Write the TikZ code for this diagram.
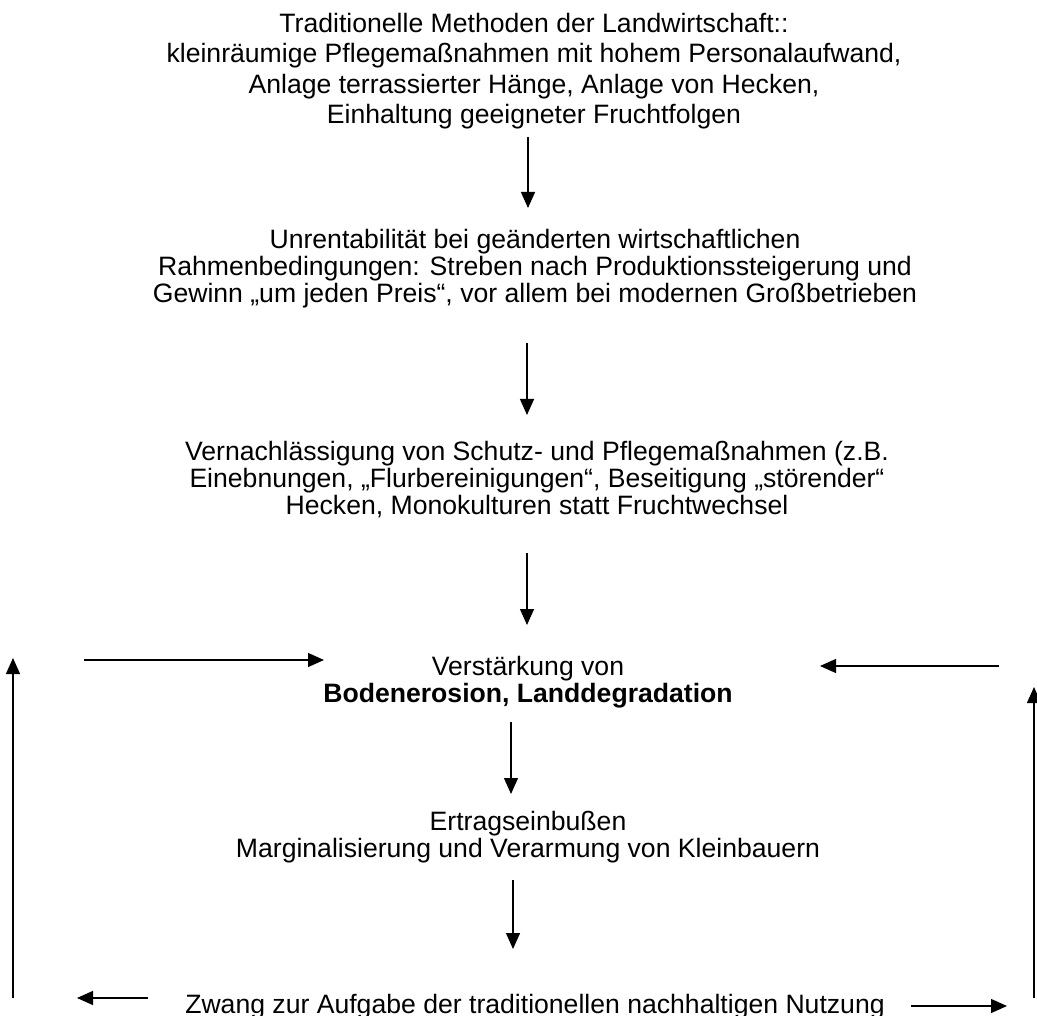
\documentclass[tikz,border=0pt]{standalone}
\usepackage{fontspec}
\setmainfont{Liberation Sans}
\usetikzlibrary{arrows.meta}
\begin{document}
\begin{tikzpicture}[x=1pt,y=-1pt,
  txt/.style={inner sep=0pt,align=center,anchor=north,font=\fontsize{26.6}{27}\selectfont},
  wide/.style={font=\fontsize{26.6}{30.5}\selectfont},
  flow/.style={line width=1.3pt,-{Triangle[length=16pt,width=14pt]}}]
\useasboundingbox (0,0) rectangle (1037,1016);
\node[txt,wide] (b1) at (534,13) {Traditionelle Methoden der Landwirtschaft::\\kleinräumige Pflegemaßnahmen mit hohem Personalaufwand,\\Anlage terrassierter Hänge, Anlage von Hecken,\\Einhaltung geeigneter Fruchtfolgen};
\node[txt] (b2) at (535,229) {Unrentabilität bei geänderten wirtschaftlichen\\Rahmenbedingungen: Streben nach Produktionssteigerung und\\Gewinn „um jeden Preis“, vor allem bei modernen Großbetrieben};
\node[txt] (b3) at (537,441) {Vernachlässigung von Schutz- und Pflegemaßnahmen (z.B.\\Einebnungen, „Flurbereinigungen“, Beseitigung „störender“\\Hecken, Monokulturen statt Fruchtwechsel};
\node[txt] (b4) at (528,656) {Verstärkung von\\\textbf{Bodenerosion, Landdegradation}};
\node[txt] (b5) at (528,811) {Ertragseinbußen\\Marginalisierung und Verarmung von Kleinbauern};
\node[txt] (b6) at (535,994) {Zwang zur Aufgabe der traditionellen nachhaltigen Nutzung};
\coordinate (a1s) at (528,137); \coordinate (a1e) at (528,208);
\coordinate (a2s) at (527,343); \coordinate (a2e) at (527,415);
\coordinate (a3s) at (527,553); \coordinate (a3e) at (527,625);
\coordinate (a4s) at (511,722); \coordinate (a4e) at (511,794);
\coordinate (a5s) at (513,880); \coordinate (a5e) at (513,949);
\coordinate (lts) at (84,660); \coordinate (lte) at (324,660);
\coordinate (rts) at (999,666); \coordinate (rte) at (820,666);
\coordinate (lvs) at (13,998); \coordinate (lve) at (13,658);
\coordinate (rvs) at (1034,998); \coordinate (rve) at (1034,687);
\coordinate (lbs) at (148,998); \coordinate (lbe) at (77,998);
\coordinate (rbs) at (911,1006); \coordinate (rbe) at (1007,1006);
\draw[flow] (a1s) -- (a1e);
\draw[flow] (a2s) -- (a2e);
\draw[flow] (a3s) -- (a3e);
\draw[flow] (a4s) -- (a4e);
\draw[flow] (a5s) -- (a5e);
\draw[flow] (lts) -- (lte);
\draw[flow] (rts) -- (rte);
\draw[flow] (lvs) -- (lve);
\draw[flow] (rvs) -- (rve);
\draw[flow] (lbs) -- (lbe);
\draw[flow] (rbs) -- (rbe);
\end{tikzpicture}
\end{document}
